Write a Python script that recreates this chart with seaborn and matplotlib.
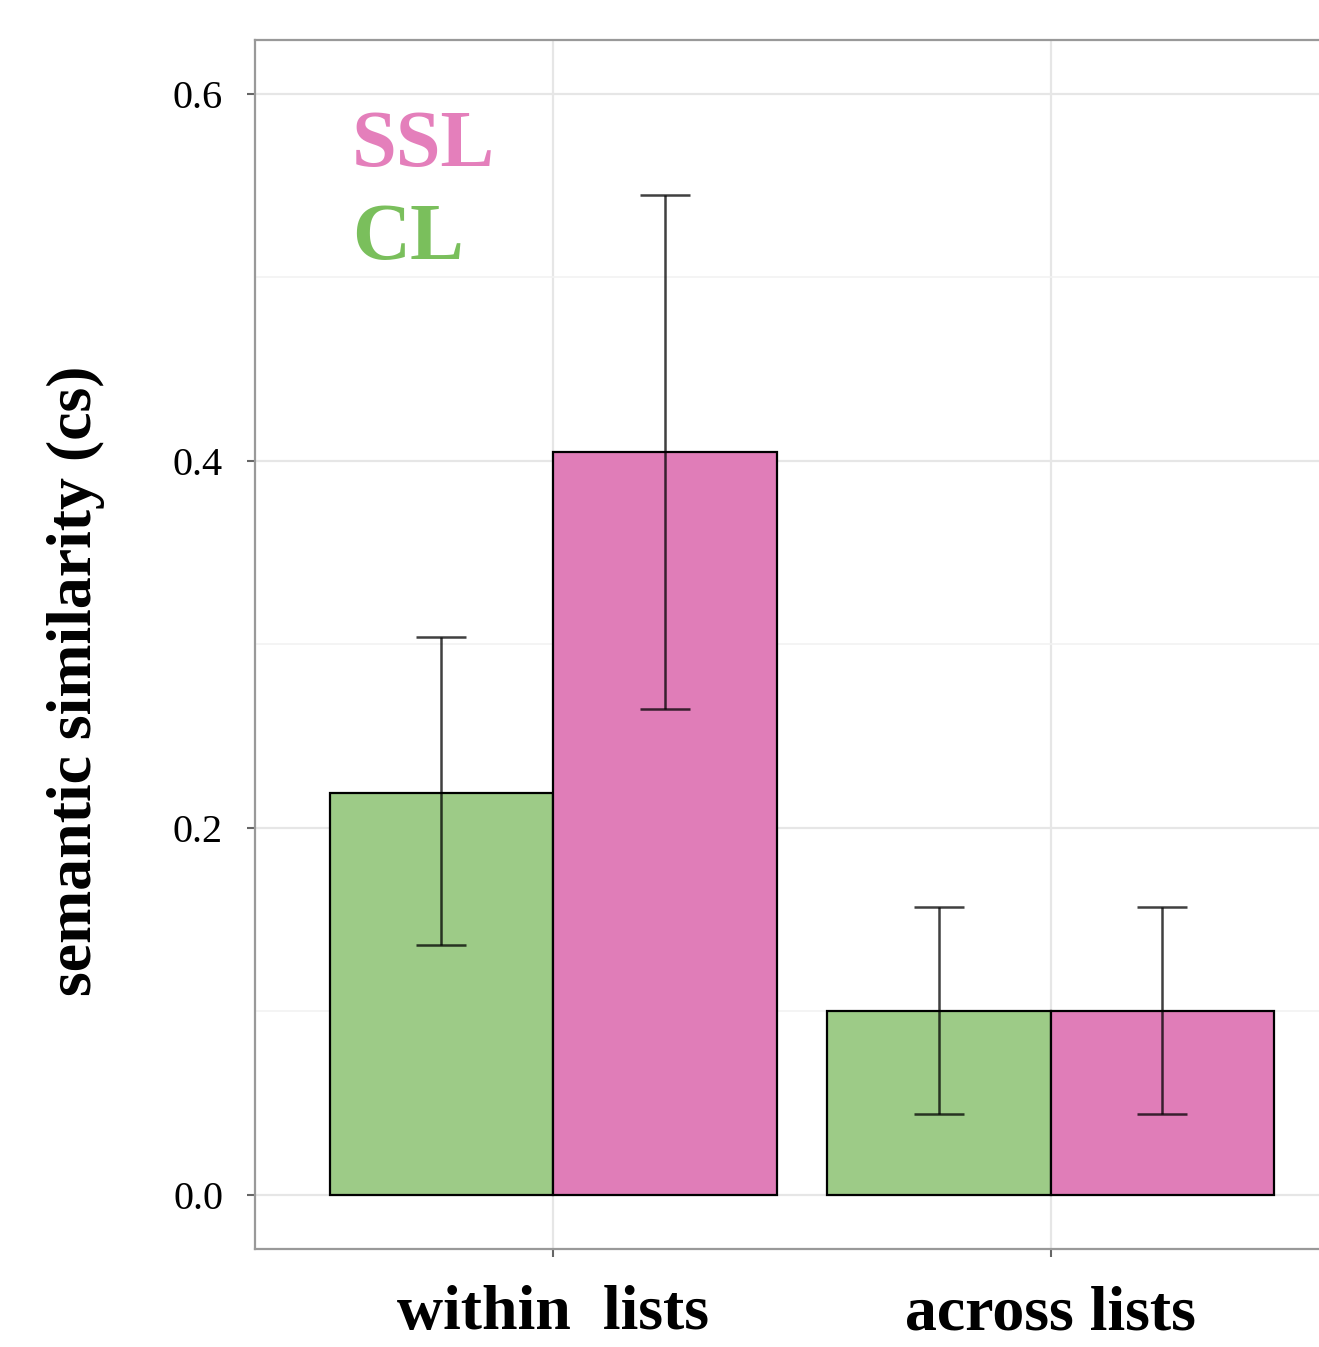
import numpy as np
import pandas as pd
import seaborn as sns
import matplotlib.pyplot as plt
from matplotlib.ticker import MultipleLocator

# values
conditions = ['within  lists', 'across lists']
groups = ['CL', 'SSL']
means = {'CL': [0.219, 0.100], 'SSL': [0.405, 0.100]}
lower = {'CL': [0.136, 0.044], 'SSL': [0.265, 0.042]}
upper = {'CL': [0.304, 0.157], 'SSL': [0.545, 0.158]}
y_ticks = [0.0, 0.2, 0.4, 0.6]

palette = {'CL': '#9dcb87', 'SSL': '#e07db8'}
text_colors = {'SSL': '#e47fbb', 'CL': '#7abf5c'}

rows = []
for g in groups:
    for i, c in enumerate(conditions):
        rows.append({'condition': c, 'group': g, 'cs': means[g][i],
                     'lo': lower[g][i], 'hi': upper[g][i]})
df = pd.DataFrame(rows)

sns.set_style('white')
plt.rcParams['font.family'] = ['Liberation Serif', 'DejaVu Serif']
plt.rcParams['text.color'] = 'black'
plt.rcParams['axes.labelcolor'] = 'black'
plt.rcParams['xtick.labelcolor'] = 'black'
plt.rcParams['ytick.labelcolor'] = 'black'

fig = plt.figure(figsize=(13.19, 13.47), dpi=100)
ax = fig.add_axes([0.1933, 0.0728, 0.8294, 0.8976])

sns.barplot(data=df, x='condition', y='cs', hue='group', order=conditions,
            hue_order=groups, palette=palette, width=0.9, errorbar=None,
            edgecolor='black', linewidth=1.6, saturation=1, legend=False,
            zorder=2, ax=ax)

# error bars at the centre of each drawn bar
bars = [p for p in ax.patches if p.get_height() > 0]
for p in bars:
    xc = p.get_x() + p.get_width() / 2
    h = p.get_height()
    r = df.loc[np.isclose(df['cs'], h)].iloc[0]
    ax.errorbar(xc, h, yerr=[[h - r['lo']], [r['hi'] - h]], fmt='none',
                ecolor='black', alpha=0.75, elinewidth=1.8, capsize=18,
                capthick=1.8, zorder=3)

ax.set_xlim(-0.6, 1.6)
ax.set_ylim(-0.0295, 0.6295)
ax.set_yticks(y_ticks)
ax.set_yticklabels([f'{v:.1f}' for v in y_ticks])
ax.yaxis.set_minor_locator(MultipleLocator(0.1))
ax.grid(True, which='major', color='#e6e6e6', linewidth=1.6, zorder=0)
ax.grid(True, which='minor', axis='y', color='#f2f2f2', linewidth=1.2, zorder=0)
ax.set_axisbelow(True)

for s in ax.spines.values():
    s.set_color('#999999')
    s.set_linewidth(1.6)

ax.tick_params(axis='y', which='major', left=True, length=6, width=1.5,
               color='#666666', labelsize=29, pad=17)
ax.tick_params(axis='y', which='minor', left=False)
ax.tick_params(axis='x', bottom=True, length=6, width=1.5, color='#666666',
               labelsize=46, pad=20)
for lab in ax.get_xticklabels():
    lab.set_fontweight('bold')

ax.set_xlabel('')
ax.set_ylabel('semantic similarity (cs)', fontsize=46, fontweight='bold')
ax.yaxis.set_label_coords(-0.137, 0.47)

ax.text(-0.405, 0.561, 'SSL', color=text_colors['SSL'], fontsize=58,
        fontweight='bold', ha='left', va='baseline')
ax.text(-0.405, 0.510, 'CL', color=text_colors['CL'], fontsize=58,
        fontweight='bold', ha='left', va='baseline')

fig.savefig('out.png', dpi=100)
